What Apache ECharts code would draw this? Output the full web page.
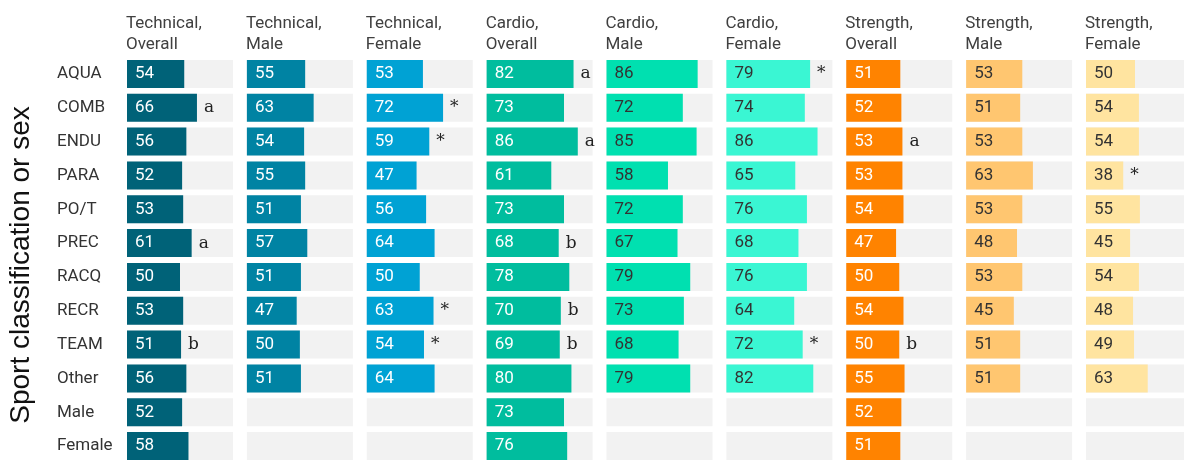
<!DOCTYPE html>
<html>
<head>
<meta charset="utf-8">
<script src="https://cdn.jsdelivr.net/npm/echarts@6/dist/echarts.min.js"></script>
<style>
  html, body { margin: 0; padding: 0; background: #fff; }
  #chart { width: 1184px; height: 463px; }
</style>
</head>
<body>
<div id="chart"></div>
<script>
var categories = ['AQUA', 'COMB', 'ENDU', 'PARA', 'PO/T', 'PREC', 'RACQ', 'RECR', 'TEAM', 'Other', 'Male', 'Female'];

var panelTitles = [
    'Technical,\nOverall', 'Technical,\nMale', 'Technical,\nFemale',
    'Cardio,\nOverall', 'Cardio,\nMale', 'Cardio,\nFemale',
    'Strength,\nOverall', 'Strength,\nMale', 'Strength,\nFemale'
];

var techOverall = [54, 66, 56, 52, 53, 61, 50, 53, 51, 56, 52, 58];
var techMale = [55, 63, 54, 55, 51, 57, 51, 47, 50, 51, null, null];
var techFemale = [53, 72, 59, 47, 56, 64, 50, 63, 54, 64, null, null];
var cardioOverall = [82, 73, 86, 61, 73, 68, 78, 70, 69, 80, 73, 76];
var cardioMale = [86, 72, 85, 58, 72, 67, 79, 73, 68, 79, null, null];
var cardioFemale = [79, 74, 86, 65, 76, 68, 76, 64, 72, 82, null, null];
var strengthOverall = [51, 52, 53, 53, 54, 47, 50, 54, 50, 55, 52, 51];
var strengthMale = [53, 51, 53, 63, 53, 48, 53, 45, 51, 51, null, null];
var strengthFemale = [50, 54, 54, 38, 55, 45, 54, 48, 49, 63, null, null];

// significance marks shown right of the bars
var techOverallNote = ['', 'a', '', '', '', 'a', '', '', 'b', '', '', ''];
var techMaleNote = ['', '', '', '', '', '', '', '', '', '', '', ''];
var techFemaleNote = ['', '*', '*', '', '', '', '', '*', '*', '', '', ''];
var cardioOverallNote = ['a', '', 'a', '', '', 'b', '', 'b', 'b', '', '', ''];
var cardioMaleNote = ['', '', '', '', '', '', '', '', '', '', '', ''];
var cardioFemaleNote = ['*', '', '', '', '', '', '', '', '*', '', '', ''];
var strengthOverallNote = ['', '', 'a', '', '', '', '', '', 'b', '', '', ''];
var strengthMaleNote = ['', '', '', '', '', '', '', '', '', '', '', ''];
var strengthFemaleNote = ['', '', '', '*', '', '', '', '', '', '', '', ''];

var panelValues = [techOverall, techMale, techFemale, cardioOverall, cardioMale, cardioFemale,
    strengthOverall, strengthMale, strengthFemale];
var panelNotes = [techOverallNote, techMaleNote, techFemaleNote, cardioOverallNote, cardioMaleNote,
    cardioFemaleNote, strengthOverallNote, strengthMaleNote, strengthFemaleNote];

var colors = ['#006278', '#0083a3', '#00a2d4', '#00bd9e', '#00e0b0', '#3af6d3', '#ff8300', '#ffc670', '#ffe4a0'];
var labelColors = ['#fff', '#fff', '#fff', '#fff', '#333', '#333', '#fff', '#333', '#333'];

var chart = echarts.init(document.getElementById('chart'));

var grids = [], xAxes = [], yAxes = [], series = [], titles = [];

panelValues.forEach(function (vals, i) {
    var left = 127 + i * 119.875;
    grids.push({ left: left, top: 57, width: 106, height: 408 });
    xAxes.push({ type: 'value', gridIndex: i, min: 0, max: 100, show: false });
    yAxes.push({
        type: 'category', gridIndex: i, data: categories, inverse: true,
        axisLine: { show: false }, axisTick: { show: false }, splitLine: { show: false },
        axisLabel: i === 0 ? {
            show: true, align: 'left', margin: 70,
            fontFamily: 'Roboto', fontSize: 17, color: '#333'
        } : { show: false },
        name: i === 0 ? 'Sport classification or sex' : '',
        nameLocation: 'middle', nameRotate: 90, nameGap: 92,
        nameTextStyle: { fontFamily: 'Liberation Sans', fontSize: 28, color: '#111', padding: [0, 10, 0, 0] }
    });
    titles.push({
        text: panelTitles[i], left: left - 6, top: 8,
        textStyle: { fontFamily: 'Roboto', fontSize: 17, fontWeight: 'normal', color: '#404040', lineHeight: 21 }
    });

    series.push({
        type: 'bar', xAxisIndex: i, yAxisIndex: i, silent: true,
        barWidth: 28, barGap: '-100%',
        data: categories.map(function () { return 100; }),
        itemStyle: { color: '#f2f2f2' }
    });
    series.push({
        type: 'bar', xAxisIndex: i, yAxisIndex: i, silent: true,
        barWidth: 28, barGap: '-100%',
        data: vals,
        itemStyle: { color: colors[i] },
        label: {
            show: true, position: 'insideLeft', distance: 8,
            fontFamily: 'Roboto', fontSize: 17, color: labelColors[i]
        }
    });
    series.push({
        type: 'bar', xAxisIndex: i, yAxisIndex: i, silent: true,
        barWidth: 28, barGap: '-100%',
        data: vals,
        itemStyle: { color: 'rgba(0,0,0,0)' },
        label: {
            show: true, position: 'right', distance: 7,
            fontFamily: 'DejaVu Serif', fontSize: 17, color: '#222',
            formatter: function (p) { return panelNotes[i][p.dataIndex]; }
        }
    });
});

chart.setOption({
    animation: false,
    title: titles,
    grid: grids,
    xAxis: xAxes,
    yAxis: yAxes,
    series: series
});
</script>
</body>
</html>
